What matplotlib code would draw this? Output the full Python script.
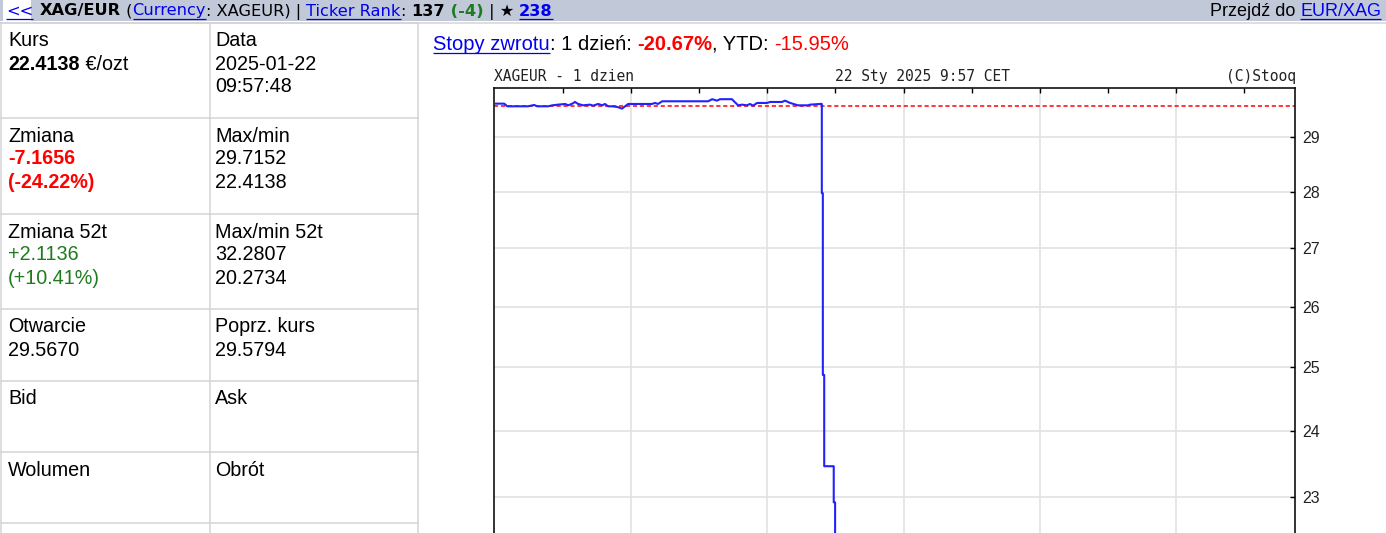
import matplotlib
matplotlib.use("Agg")
import matplotlib.pyplot as plt
from matplotlib.patches import Rectangle
from matplotlib.ticker import FixedLocator, FixedFormatter, NullLocator

plt.rcParams['lines.scale_dashes'] = False

# ---------------- data ----------------
ticker = "XAGEUR"
hours = [0.03, 0.27, 0.36, 0.97, 1.15, 1.24, 1.56, 1.68, 1.85, 2.06, 2.15, 2.27,
         2.35, 2.44, 2.59, 2.79, 2.88, 3.03, 3.15, 3.23, 3.32, 3.44, 3.59, 3.73,
         3.82, 3.91, 4.61, 4.70, 4.79, 4.91, 6.26, 6.38, 6.52, 6.61, 6.96, 7.02,
         7.14, 7.26, 7.40, 7.49, 7.58, 7.70, 7.99, 8.08, 8.43, 8.52, 8.67, 8.90,
         9.20, 9.25, 9.55, 9.60, 9.60, 9.63, 9.63, 9.67, 9.67, 9.95, 9.95, 9.99,
         9.99]
prices = [29.630, 29.630, 29.579, 29.579, 29.605, 29.579, 29.579, 29.598, 29.611,
          29.624, 29.598, 29.630, 29.662, 29.624, 29.598, 29.611, 29.592, 29.624,
          29.598, 29.624, 29.579, 29.579, 29.567, 29.535, 29.579, 29.624, 29.624,
          29.643, 29.624, 29.675, 29.675, 29.715, 29.687, 29.715, 29.715, 29.675,
          29.598, 29.611, 29.598, 29.624, 29.592, 29.643, 29.643, 29.662, 29.662,
          29.687, 29.643, 29.598, 29.598, 29.611, 29.624, 29.624, 27.97, 27.97,
          24.88, 24.88, 23.46, 23.46, 22.92, 22.92, 22.4138]
prev_close = 29.5794
y_ticks = [23, 24, 25, 26, 27, 28, 29]
x_grid_hours = [4, 8, 12, 16, 20]
x_minor_hours = [2, 6, 10, 14, 18, 22]

left_cells = [
    [[("Kurs", "n")], [("22.4138", "b"), (" €/ozt", "n")]],
    [[("Zmiana", "n")], [("-7.1656", "rb")], [("(-24.22%)", "rb")]],
    [[("Zmiana 52t", "n")], [("+2.1136", "g")], [("(+10.41%)", "g")]],
    [[("Otwarcie", "n")], [("29.5670", "n")]],
    [[("Bid", "n")]],
    [[("Wolumen", "n")]],
]
right_cells = [
    [[("Data", "n")], [("2025-01-22", "n")], [("09:57:48", "n")]],
    [[("Max/min", "n")], [("29.7152", "n")], [("22.4138", "n")]],
    [[("Max/min 52t", "n")], [("32.2807", "n")], [("20.2734", "n")]],
    [[("Poprz. kurs", "n")], [("29.5794", "n")]],
    [[("Ask", "n")]],
    [[("Obrót", "n")]],
]
header_segments = [("XAG/EUR", "b"), (" (", "n"), ("Currency", "u"),
                   (": XAGEUR) | ", "n"), ("Ticker Rank", "u"), (": ", "n"),
                   ("137", "b"), (" (-4)", "gb"), (" | ★ ", "n"), ("238", "ub")]
right_header = [("Przejdź do ", "n"), ("EUR/XAG", "u")]
title_segments = [("Stopy zwrotu", "u"), (": 1 dzień: ", "n"), ("-20.67%", "rb"),
                  (", YTD: ", "n"), ("-15.95%", "r")]
chart_left_label = "XAGEUR - 1 dzien"
chart_mid_label = "22 Sty 2025 9:57 CET"
chart_right_label = "(C)Stooq"

# ---------------- layout ----------------
W, H = 1386, 533
fig = plt.figure(figsize=(W / 100, H / 100), dpi=100)
fig.patch.set_facecolor("white")
bg = fig.add_axes([0, 0, 1, 1])
bg.set_xlim(0, W)
bg.set_ylim(H, 0)
bg.axis("off")

LINK = "#0000ee"
RED = "#ff0000"
GREEN = "#1e7b1e"
BORDER = "#d4d4d4"

renderer = fig.canvas.get_renderer()


def props_for(style, size, family):
    p = dict(fontsize=size, family=family, color="black", fontweight="normal")
    if "b" in style:
        p["fontweight"] = "bold"
    if "r" in style:
        p["color"] = RED
    if "g" in style:
        p["color"] = GREEN
    if "u" in style:
        p["color"] = LINK
    return p


def seg_width(s, p):
    t = bg.text(0, 0, "|" + s + "|", **p)
    w1 = t.get_window_extent(renderer).width
    t.set_text("||")
    w2 = t.get_window_extent(renderer).width
    t.remove()
    return w1 - w2


def draw_segments(x, y, segs, size, family, align="left", ul=2.5):
    items = []
    for s, st in segs:
        p = props_for(st, size, family)
        items.append((s, st, p, seg_width(s, p)))
    if align == "right":
        x -= sum(it[3] for it in items)
    for s, st, p, w in items:
        bg.text(x, y, s, ha="left", va="baseline", **p)
        if "u" in st:
            bg.plot([x, x + w], [y + ul, y + ul], color=p["color"], lw=0.9,
                    solid_capstyle="butt")
        x += w


# header bar
bg.add_patch(Rectangle((0, 0), W, 21, facecolor="#c1c9d9", edgecolor="none"))
bg.add_patch(Rectangle((3, 0), 28, 21, facecolor="white", edgecolor="none"))
bg.plot([0, W], [23, 23], color=BORDER, lw=1.1)
draw_segments(6, 15.5, [("<<", "u")], 11.7, "DejaVu Sans", ul=3)
draw_segments(40, 15.5, header_segments, 11.7, "DejaVu Sans", ul=3)
draw_segments(1381, 16, right_header, 13, "Liberation Sans", align="right")

# table
row_tops = [23, 118, 214, 309, 381, 452, 523]
for yy in row_tops:
    bg.plot([1, 418], [yy, yy], color=BORDER, lw=1.1)
for xx in [1, 209.5, 418]:
    bg.plot([xx, xx], [23, H], color=BORDER, lw=1.1)
for i, top in enumerate(row_tops[:-1]):
    for cx, cell in ((8, left_cells[i]), (215, right_cells[i])):
        for j, line in enumerate(cell):
            draw_segments(cx, top + 23.5 + 23 * j, line, 14.2, "Liberation Sans")

# chart title
draw_segments(433, 50, title_segments, 14.5, "Liberation Sans")

# chart header labels
mono = dict(family="DejaVu Sans Mono", fontsize=10.5, va="baseline", color="#222222")
bg.text(494, 81, chart_left_label, ha="left", **mono)
bg.text(835, 81, chart_mid_label, ha="left", **mono)
bg.text(1296, 81, chart_right_label, ha="right", **mono)

# chart axes (extends below the visible figure)
ax = fig.add_axes([494 / W, 1 - 560 / H, (1295 - 494) / W, (560 - 88) / H])
ax.set_zorder(2)
ax.set_yscale("log")
ax.set_xlim(-0.03, 23.5)
ax.set_ylim(22.085, 29.93)

ax.plot(hours, prices, color="#2222ff", lw=1.5, zorder=3)
ax.axhline(prev_close, color=RED, lw=1.1, dashes=(3, 2), zorder=2)

ax.xaxis.set_major_locator(FixedLocator(x_grid_hours))
ax.xaxis.set_minor_locator(FixedLocator(x_minor_hours))
ax.xaxis.tick_top()
ax.tick_params(axis="x", which="both", top=True, bottom=False, direction="in",
               length=3.6, width=1.0, labeltop=False, labelbottom=False)
ax.yaxis.set_major_locator(FixedLocator(y_ticks))
ax.yaxis.set_major_formatter(FixedFormatter([str(v) for v in y_ticks]))
ax.yaxis.set_minor_locator(NullLocator())
ax.yaxis.tick_right()
ax.tick_params(axis="y", which="major", right=True, left=False, direction="in",
               length=3.6, width=1.0, pad=5, labelsize=11.5,
               labelfontfamily="Liberation Sans", labelcolor="#222222")
ax.grid(True, which="major", color="#e2e2e2", lw=1.2)
ax.set_axisbelow(True)
for side in ["left", "right", "top"]:
    ax.spines[side].set_linewidth(1.2)
    ax.spines[side].set_color("#111111")
ax.spines["bottom"].set_visible(False)

fig.savefig("out.png", dpi=100)
